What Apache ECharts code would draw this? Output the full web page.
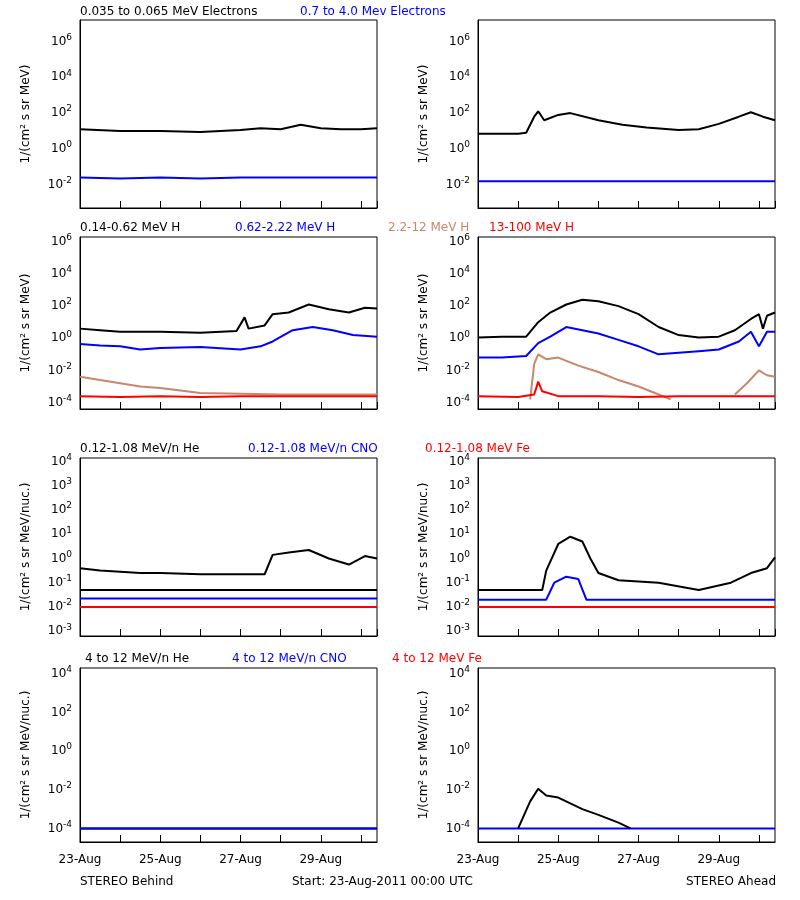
<!DOCTYPE html>
<html><head><meta charset="utf-8">
<script src="https://cdn.jsdelivr.net/npm/echarts@6/dist/echarts.min.js"></script>
<style>body{margin:0;background:#fff}#c{width:800px;height:900px}</style>
</head><body><div id="c"></div>
<script>
// values are log10 of intensity, x in days since 23-Aug-2011 00:00
let e1L_black = [[0,1.1],[1,1.0],[2,1.0],[3,0.95],[4,1.05],[4.5,1.15],[5,1.1],[5.5,1.35],[6,1.15],[6.5,1.1],[7,1.1],[7.4,1.15]];
let e1L_blue = [[0,-1.6],[1,-1.65],[2,-1.6],[3,-1.65],[4,-1.6],[5,-1.6],[6,-1.6],[7,-1.6],[7.4,-1.6]];
let e1R_black = [[0,0.85],[1,0.85],[1.2,0.9],[1.4,1.8],[1.5,2.1],[1.65,1.6],[2,1.9],[2.3,2.0],[3,1.6],[3.6,1.35],[4.2,1.2],[5,1.05],[5.5,1.1],[6,1.4],[6.5,1.8],[6.8,2.05],[7.1,1.8],[7.4,1.6]];
let e1R_blue = [[0,-1.8],[1,-1.8],[2,-1.8],[3,-1.8],[4,-1.8],[5,-1.8],[6,-1.8],[7,-1.8],[7.4,-1.8]];

let h2L_black = [[0,0.6],[0.5,0.5],[1,0.4],[2,0.4],[3,0.35],[3.9,0.45],[4.1,1.3],[4.2,0.6],[4.6,0.8],[4.8,1.5],[5.2,1.6],[5.7,2.1],[6.2,1.8],[6.7,1.6],[7.1,1.9],[7.4,1.85]];
let h2L_blue = [[0,-0.35],[0.5,-0.45],[1,-0.5],[1.5,-0.7],[2,-0.6],[3,-0.55],[4,-0.7],[4.5,-0.5],[4.8,-0.2],[5.3,0.5],[5.8,0.7],[6.3,0.5],[6.8,0.2],[7.4,0.1]];
let h2L_brown = [[0,-2.4],[0.5,-2.6],[1,-2.8],[1.5,-3.0],[2,-3.1],[2.5,-3.25],[3,-3.4],[4,-3.45],[5,-3.5],[6,-3.5],[7,-3.5],[7.4,-3.5]];
let h2L_red = [[0,-3.6],[1,-3.65],[2,-3.6],[3,-3.65],[4,-3.6],[5,-3.6],[6,-3.6],[7,-3.6],[7.4,-3.6]];
let h2R_black = [[0,0.05],[0.6,0.1],[1.2,0.1],[1.5,1.0],[1.8,1.6],[2.2,2.1],[2.6,2.4],[3,2.3],[3.5,2.0],[4,1.5],[4.5,0.7],[5,0.2],[5.5,0.05],[6,0.1],[6.4,0.5],[6.8,1.2],[7.0,1.5],[7.1,0.6],[7.2,1.4],[7.4,1.6]];
let h2R_blue = [[0,-1.2],[0.6,-1.2],[1.2,-1.1],[1.5,-0.3],[1.8,0.1],[2.2,0.7],[2.6,0.5],[3,0.3],[3.5,-0.1],[4,-0.5],[4.5,-1.0],[5,-0.9],[5.5,-0.8],[6,-0.7],[6.5,-0.2],[6.8,0.4],[7.0,-0.5],[7.2,0.4],[7.4,0.4]];
let h2R_brown = [[1.3,-3.8],[1.4,-1.6],[1.5,-1.0],[1.7,-1.3],[2.0,-1.2],[2.5,-1.7],[3,-2.1],[3.5,-2.6],[4,-3.0],[4.5,-3.5],[4.8,-3.8],[null,null],[6.4,-3.5],[6.7,-2.8],[7.0,-2.0],[7.2,-2.3],[7.4,-2.4]];
let h2R_red = [[0,-3.6],[1,-3.65],[1.4,-3.5],[1.5,-2.7],[1.6,-3.3],[2,-3.6],[3,-3.6],[4,-3.65],[5,-3.6],[6,-3.6],[7,-3.6],[7.4,-3.6]];

let he3L_black = [[0,-0.4],[0.5,-0.5],[1,-0.55],[1.5,-0.6],[2,-0.6],[3,-0.65],[4,-0.65],[4.6,-0.65],[4.8,0.15],[5.2,0.25],[5.7,0.35],[6.2,0.0],[6.7,-0.25],[7.1,0.1],[7.4,0.0]];
let he3L_base = [[0,-1.3],[7.4,-1.3]];
let cno3L_blue = [[0,-1.65],[7.4,-1.65]];
let fe3L_red = [[0,-2.0],[7.4,-2.0]];
let he3R_black = [[0,-1.3],[1.6,-1.3],[1.7,-0.5],[2.0,0.6],[2.3,0.9],[2.6,0.7],[2.8,0.0],[3.0,-0.6],[3.5,-0.9],[4.5,-1.0],[5.5,-1.3],[6.3,-1.0],[6.8,-0.6],[7.2,-0.4],[7.4,0.05]];
let cno3R_blue = [[0,-1.7],[1.7,-1.7],[1.9,-1.0],[2.2,-0.75],[2.5,-0.85],[2.7,-1.7],[7.4,-1.7]];
let fe3R_red = [[0,-2.0],[7.4,-2.0]];

let he4L_black = [[0,-4.0],[7.4,-4.0]];
let cno4L_blue = [[0,-4.0],[7.4,-4.0]];
let he4R_black = [[1.0,-4.0],[1.3,-2.6],[1.5,-1.95],[1.7,-2.3],[2.0,-2.4],[2.3,-2.7],[2.6,-3.0],[3.0,-3.3],[3.5,-3.7],[3.8,-4.0]];
let cno4R_blue = [[0,-4.0],[7.4,-4.0]];

let dayLabels = {0:'23-Aug',2:'25-Aug',4:'27-Aug',6:'29-Aug'};

let rows = [
  {top:20, h:188, min:-3.3, max:7.2, labelStep:2, first:-2, name:'1/(cm\u00b2 s sr MeV)',
   L:[[e1L_black,'#000'],[e1L_blue,'#0000ff']], R:[[e1R_black,'#000'],[e1R_blue,'#0000ff']]},
  {top:237, h:172, min:-4.4, max:6.3, labelStep:2, first:-4, name:'1/(cm\u00b2 s sr MeV)',
   L:[[h2L_black,'#000'],[h2L_blue,'#0000ff'],[h2L_brown,'#c9866a'],[h2L_red,'#ff0000']],
   R:[[h2R_black,'#000'],[h2R_blue,'#0000ff'],[h2R_brown,'#c9866a'],[h2R_red,'#ff0000']]},
  {top:458, h:178, min:-3.2, max:4.15, labelStep:1, first:-3, name:'1/(cm\u00b2 s sr MeV/nuc.)',
   L:[[he3L_black,'#000'],[he3L_base,'#000'],[cno3L_blue,'#0000ff'],[fe3L_red,'#ff0000']],
   R:[[he3R_black,'#000'],[cno3R_blue,'#0000ff'],[fe3R_red,'#ff0000']]},
  {top:668, h:174, min:-4.7, max:4.3, labelStep:2, first:-4, name:'1/(cm\u00b2 s sr MeV/nuc.)',
   L:[[he4L_black,'#000'],[cno4L_blue,'#0000ff']], R:[[cno4R_blue,'#0000ff'],[he4R_black,'#000']]}
];

let titles = [
  [[80,13,'0.035 to 0.065 MeV Electrons','#000'],[300,13,'0.7 to 4.0 Mev Electrons','#0000ff']],
  [[80,229,'0.14-0.62 MeV H','#000'],[235,229,'0.62-2.22 MeV H','#0000ff'],[388,229,'2.2-12 MeV H','#c9866a'],[489,229,'13-100 MeV H','#ff0000']],
  [[80,450,'0.12-1.08 MeV/n He','#000'],[248,450,'0.12-1.08 MeV/n CNO','#0000ff'],[425,450,'0.12-1.08 MeV Fe','#ff0000']],
  [[85,660,'4 to 12 MeV/n He','#000'],[232,660,'4 to 12 MeV/n CNO','#0000ff'],[392,660,'4 to 12 MeV Fe','#ff0000']]
];

let chart = echarts.init(document.getElementById('c'));
let grid = [], xAxis = [], yAxis = [], series = [], graphic = [];
let lefts = [80, 478];
let font = 'DejaVu Sans';

rows.forEach(function (r, ri) {
  ['L', 'R'].forEach(function (side, si) {
    let idx = grid.length;
    grid.push({left: lefts[si], top: r.top, width: 297, height: r.h, show: true, borderColor: '#000', borderWidth: 1});
    xAxis.push({
      gridIndex: idx, type: 'value', min: 0, max: 7.4, interval: 1,
      axisLine: {show: true, onZero: false, lineStyle: {color: '#000', width: 1}}, splitLine: {show: false},
      axisTick: {show: true, inside: true, length: 7, lineStyle: {color: '#000'}},
      axisLabel: {show: ri === 3, color: '#000', fontFamily: font, fontSize: 12, margin: 12, showMaxLabel: false,
        formatter: function (v) { return dayLabels[v] || ''; }}
    });
    yAxis.push({
      gridIndex: idx, type: 'value', min: r.min, max: r.max,
      name: r.name, nameLocation: 'middle', nameGap: 48, nameRotate: 90,
      nameTextStyle: {color: '#000', fontFamily: font, fontSize: 12},
      axisLine: {show: true, onZero: false, lineStyle: {color: '#000', width: 1}}, splitLine: {show: false},
      axisTick: {show: false},
      axisLabel: {color: '#000', fontFamily: font, fontSize: 12,
        customValues: (function () { let a = []; for (let v = r.first; v <= r.max; v += r.labelStep) a.push(v); return a; })(),
        formatter: function (v) { return '10{s|' + Math.round(v) + '}'; },
        rich: {s: {fontSize: 9, verticalAlign: 'top', padding: [0, 0, 8, 0], fontFamily: font}}}
    });
    r[side].forEach(function (s) {
      series.push({type: 'line', xAxisIndex: idx, yAxisIndex: idx, data: s[0], showSymbol: false,
        connectNulls: false, lineStyle: {color: s[1], width: 2}, itemStyle: {color: s[1]}, animation: false});
    });
  });
});

titles.forEach(function (row) {
  row.forEach(function (t) {
    graphic.push({type: 'text', left: t[0], top: t[1] - 7, style: {text: t[2], fill: t[3], font: '12px "DejaVu Sans"'}});
  });
});
graphic.push({type: 'text', left: 80, top: 876, style: {text: 'STEREO Behind', fill: '#000', font: '12px "DejaVu Sans"'}});
graphic.push({type: 'text', left: 292, top: 876, style: {text: 'Start: 23-Aug-2011 00:00 UTC', fill: '#000', font: '12px "DejaVu Sans"'}});
graphic.push({type: 'text', right: 24, top: 876, style: {text: 'STEREO Ahead', fill: '#000', font: '12px "DejaVu Sans"'}});

chart.setOption({backgroundColor: '#fff', animation: false, grid: grid, xAxis: xAxis, yAxis: yAxis, series: series, graphic: graphic});
</script></body></html>
